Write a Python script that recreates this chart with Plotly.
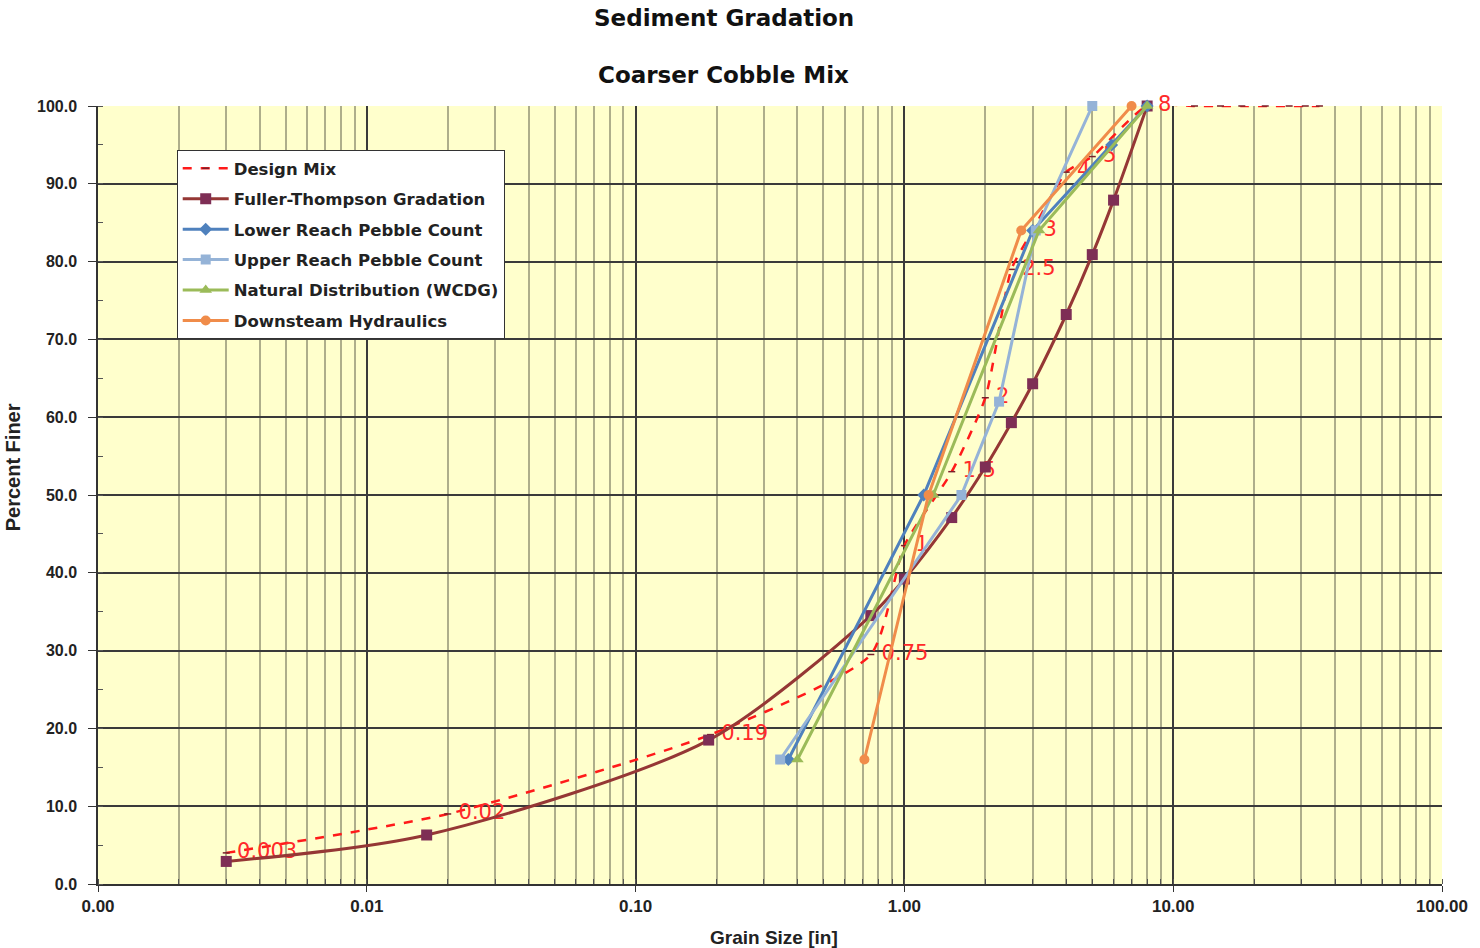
import plotly.graph_objects as go

# ---- data -------------------------------------------------------------
# Design mix gradation (grain size in inches, percent finer)
design_size = [0.003, 0.02, 0.19, 0.75, 1, 1.5, 2, 2.5, 3, 4, 5, 8,
               12, 15, 18, 22, 27, 31, 35]
design_pct = [4.0, 9.0, 19.2, 29.5, 43.5, 53.0, 62.5, 79.0, 84.0, 91.5, 93.5, 100.0,
              100.0, 100.0, 100.0, 100.0, 100.0, 100.0, 100.0]
design_labels = ["0.003", "0.02", "0.19", "0.75", "1", "1.5", "2", "2.5", "3", "4", "5", "8",
                 "", "", "", "", "", "", ""]

# Fuller-Thompson gradation
ft_size = [0.003, 0.0167, 0.187, 0.75, 1, 1.5, 2, 2.5, 3, 4, 5, 6, 8]
ft_pct = [2.9, 6.3, 18.5, 34.5, 39.2, 47.1, 53.6, 59.3, 64.3, 73.2, 80.9, 87.9, 100.0]

# Pebble counts and other distributions
lower_size = [0.37, 1.18, 3.0, 5.9, 8.0]
lower_pct = [16, 50, 84, 95, 100]

upper_size = [0.345, 1.63, 2.25, 3.08, 5.0]
upper_pct = [16, 50, 62, 84, 100]

natural_size = [0.40, 1.28, 3.17, 8.0]
natural_pct = [16, 50, 84, 100]

downstream_size = [0.71, 1.23, 2.72, 7.0]
downstream_pct = [16, 50, 84, 100]

x_tickvals = [0.001, 0.01, 0.1, 1, 10, 100]
y_tickvals = [0, 10, 20, 30, 40, 50, 60, 70, 80, 90, 100]

# ---- figure -----------------------------------------------------------
SANS = "Liberation Sans"
WIDE = "DejaVu Sans"
W, H = 1480, 948
L, R, T, B = 98, 33, 106, 64
PW, PH = W - L - R, H - T - B


def px_x(px):
    return (px - L) / PW


def px_y(py):
    return (H - B - py) / PH


fig = go.Figure()

fig.add_trace(go.Scatter(
    x=design_size, y=design_pct, name="Design Mix", legendgroup="g1",
    mode="lines+markers+text", text=["\u00a0" + t if t else t for t in design_labels],
    textposition="middle right", cliponaxis=False,
    textfont=dict(family=WIDE, size=21, color="#ff2a2a"),
    line=dict(color="#ff1a1a", width=2.5, dash="dash", shape="spline", smoothing=0.6),
    marker=dict(symbol="line-ew", size=5, color="#7a1f2a",
                line=dict(color="#7a1f2a", width=1.5)),
))

fig.add_trace(go.Scatter(
    x=ft_size, y=ft_pct, name="Fuller-Thompson Gradation", legendgroup="g2",
    mode="lines+markers", cliponaxis=False,
    line=dict(color="#953735", width=3, shape="spline", smoothing=0.8),
    marker=dict(symbol="square", size=11, color="#7e2e55"),
))

fig.add_trace(go.Scatter(
    x=lower_size, y=lower_pct, name="Lower Reach Pebble Count", legendgroup="g3",
    mode="lines+markers", cliponaxis=False,
    line=dict(color="#4f81bd", width=3),
    marker=dict(symbol="diamond", size=10, color="#4f81bd"),
))

fig.add_trace(go.Scatter(
    x=upper_size, y=upper_pct, name="Upper Reach Pebble Count", legendgroup="g4",
    mode="lines+markers", cliponaxis=False,
    line=dict(color="#95b3d7", width=3),
    marker=dict(symbol="square", size=10, color="#95b3d7"),
))

fig.add_trace(go.Scatter(
    x=natural_size, y=natural_pct, name="Natural Distribution (WCDG)", legendgroup="g5",
    mode="lines+markers", cliponaxis=False,
    line=dict(color="#9bbb59", width=3),
    marker=dict(symbol="triangle-up", size=11, color="#9bbb59"),
))

fig.add_trace(go.Scatter(
    x=downstream_size, y=downstream_pct, name="Downsteam Hydraulics", legendgroup="g6",
    mode="lines+markers", cliponaxis=False,
    line=dict(color="#f08c4a", width=3),
    marker=dict(symbol="circle", size=10, color="#f08c4a"),
))

title_font = dict(family=WIDE, size=23, color="#111111")
axis_title_font = dict(family=SANS, size=19, color="#222222", weight="bold")

fig.update_layout(
    width=W, height=H,
    margin=dict(l=L, r=R, t=T, b=B),
    paper_bgcolor="white",
    plot_bgcolor="#ffffcc",
    showlegend=True,
    legend=dict(
        x=px_x(177), y=px_y(150), xanchor="left", yanchor="top",
        bgcolor="white", bordercolor="#333333", borderwidth=1,
        font=dict(family=WIDE, size=16.5, color="#222222", weight="bold"),
        itemwidth=46, tracegroupgap=6,
    ),
    annotations=[
        dict(text="<b>Sediment Gradation</b>", xref="paper", yref="paper",
             x=px_x(726), y=px_y(18), xanchor="center", yanchor="middle",
             showarrow=False, font=title_font),
        dict(text="<b>Coarser Cobble Mix</b>", xref="paper", yref="paper",
             x=px_x(726), y=px_y(75), xanchor="center", yanchor="middle",
             showarrow=False, font=title_font),
        dict(text="Grain Size [in]", xref="paper", yref="paper",
             x=px_x(777), y=px_y(938), xanchor="center", yanchor="middle",
             showarrow=False, font=axis_title_font),
        dict(text="Percent Finer", xref="paper", yref="paper", textangle=-90,
             x=px_x(13), y=px_y(467), xanchor="center", yanchor="middle",
             showarrow=False, font=dict(family=SANS, size=20, color="#222222", weight="bold")),
    ],
)

fig.update_xaxes(
    type="log", range=[-3, 2],
    tickvals=x_tickvals, tickformat=".2f",
    tickfont=dict(family=SANS, size=17, color="#222222", weight="bold"),
    ticks="outside", ticklen=6, tickcolor="#333333",
    showline=True, linecolor="#333333", linewidth=1.5,
    showgrid=True, gridcolor="#3a3a3a", gridwidth=1.5,
    minor=dict(dtick="D1", showgrid=True, gridcolor="rgba(120,120,95,0.6)", gridwidth=2,
               ticks="inside", ticklen=5, tickcolor="#555555"),
    zeroline=False,
)

fig.update_yaxes(
    range=[0, 100], tickvals=y_tickvals, tickformat=".1f",
    tickfont=dict(family=SANS, size=16, color="#222222", weight="bold"),
    ticks="outside", ticklen=8, tickcolor="#333333", ticklabelstandoff=8,
    showline=True, linecolor="#333333", linewidth=1.5,
    showgrid=True, gridcolor="#3a3a3a", gridwidth=1.5,
    minor=dict(dtick=5, showgrid=False, ticks="inside", ticklen=5, tickcolor="#555555"),
    zeroline=False,
)

fig.write_html("out.html")
